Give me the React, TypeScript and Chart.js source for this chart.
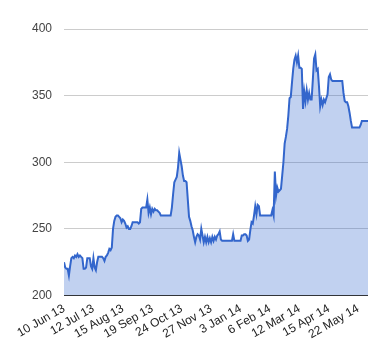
import React, { useEffect, useRef } from 'react';
import { Chart, registerables } from 'chart.js';

Chart.register(...registerables);

const tickLabels = [
  '10 Jun 13', '12 Jul 13', '15 Aug 13', '19 Sep 13', '24 Oct 13', '27 Nov 13',
  '3 Jan 14', '6 Feb 14', '12 Mar 14', '15 Apr 14', '22 May 14',
];
const tickEvery = 24;
const yTicks = [200, 250, 300, 350, 400];

const prices = [
  225, 221, 220, 220, 215, 222, 228, 229, 228, 230,
  229, 231, 229, 230, 229, 228, 220, 220, 221, 228,
  228, 228, 222, 220, 228, 221, 219, 225, 229, 229,
  229, 229, 228, 226, 229, 230, 232, 235, 234, 236,
  250, 256, 259, 260, 260, 259, 258, 255, 257, 256,
  254, 251, 252, 250, 250, 252, 255, 255, 255, 255,
  255, 254, 255, 265, 266, 266, 266, 266, 272, 262,
  266, 261, 265, 263, 265, 264, 264, 263, 262, 260,
  260, 260, 260, 260, 260, 260, 260, 260, 266, 276,
  285, 287, 289, 296, 307, 302, 297, 290, 286, 286,
  285, 272, 259, 256, 252, 249, 244, 240, 244, 246,
  245, 242, 250, 245, 240, 244, 240, 244, 240, 243,
  240, 244, 241, 244, 242, 245, 246, 248, 242, 241,
  241, 241, 241, 241, 241, 241, 241, 241, 246, 241,
  241, 241, 241, 241, 241, 245, 245, 246, 246, 245,
  241, 242, 249, 255, 254, 260, 267, 261, 268, 267,
  260, 260, 260, 260, 260, 260, 260, 260, 260, 260,
  264, 260, 293, 275, 281, 278, 279, 280, 290, 300,
  314, 319, 325, 335, 348, 349, 360, 370, 377, 380,
  375, 380, 371, 371, 370, 340, 353, 346, 354, 347,
  352, 347, 347, 362, 378, 381, 369, 370, 357, 342,
  347, 343, 347, 345, 348, 351, 364, 366, 362, 361,
  361, 361, 361, 361, 361, 361, 361, 361, 352, 346,
  345, 345, 342, 337, 331, 326, 326, 326, 326, 326,
  326, 326, 328, 331, 331, 331, 331, 331, 331,
];

const FONT_FAMILY = "Arial, 'Liberation Sans', sans-serif";

export default function App() {
  const ref = useRef<HTMLCanvasElement>(null);

  useEffect(() => {
    document.body.style.margin = '0';
    const chart = new Chart(ref.current!, {
      type: 'line',
      data: {
        datasets: [
          {
            data: prices.map((v, i) => ({ x: i, y: v })),
            borderColor: '#3366cc',
            borderWidth: 2,
            backgroundColor: 'rgba(51,102,204,0.3)',
            fill: 'start',
            pointRadius: 0,
            tension: 0,
          },
        ],
      },
      options: {
        animation: false,
        responsive: false,
        layout: { padding: { top: 29, right: 12, left: 0, bottom: 0 } },
        plugins: { legend: { display: false }, tooltip: { enabled: false } },
        scales: {
          x: {
            type: 'linear',
            min: 0,
            max: prices.length - 1,
            grid: { display: false, drawTicks: false },
            border: { display: false },
            afterBuildTicks: (s: any) => {
              s.ticks = tickLabels.map((_, i) => ({ value: i * tickEvery }));
            },
            afterFit: (s: any) => {
              s.height = 64.5;
            },
            ticks: {
              autoSkip: false,
              minRotation: 30,
              maxRotation: 30,
              padding: 6,
              color: '#222',
              font: { family: FONT_FAMILY, size: 12 },
              callback: (v: any) => tickLabels[Math.round(Number(v) / tickEvery)] ?? '',
            },
          },
          y: {
            min: 200,
            max: 400,
            afterBuildTicks: (s: any) => {
              s.ticks = yTicks.map((v) => ({ value: v }));
            },
            afterFit: (s: any) => {
              s.width = 64;
            },
            border: { display: false },
            grid: {
              drawTicks: false,
              color: (ctx: any) => (ctx.tick && ctx.tick.value === 200 ? '#333' : '#ccc'),
            },
            ticks: {
              padding: 12,
              color: '#444',
              font: { family: FONT_FAMILY, size: 12 },
            },
          },
        },
      },
    });
    return () => chart.destroy();
  }, []);

  return <canvas ref={ref} width={380} height={360} style={{ display: 'block' }} />;
}
